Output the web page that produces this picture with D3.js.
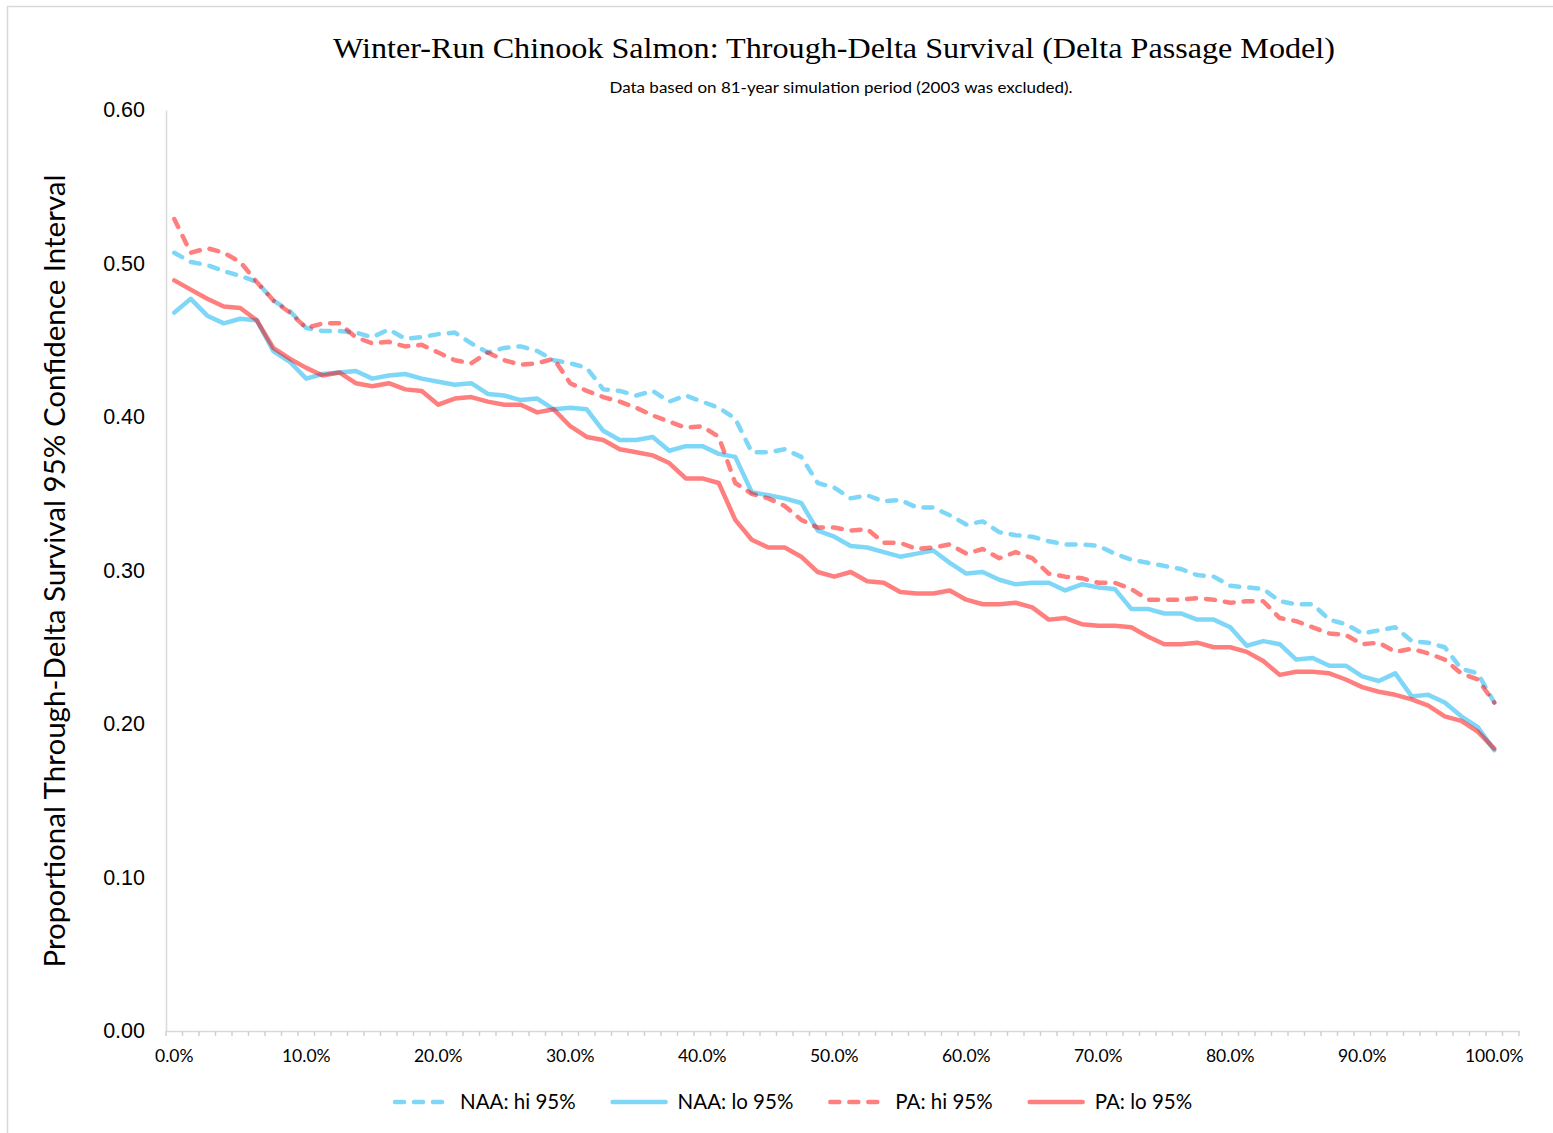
<!DOCTYPE html>
<html>
<head>
<meta charset="utf-8">
<script src="https://cdnjs.cloudflare.com/ajax/libs/d3/7.8.5/d3.min.js"></script>
<style>
  body { margin: 0; background: #fff; }
</style>
</head>
<body>
<div id="chart-area"></div>
<script>
// Winter-Run Chinook Salmon - through-delta survival, 95% CI bounds
// 81 simulated years, sorted, plotted against exceedance %

const naaHi = [0.507, 0.501, 0.499, 0.495, 0.492, 0.488, 0.476, 0.469, 0.458, 0.456,
  0.456, 0.455, 0.452, 0.457, 0.451, 0.452, 0.454, 0.455, 0.448, 0.442,
  0.445, 0.446, 0.443, 0.437, 0.435, 0.432, 0.418, 0.417, 0.414, 0.417,
  0.410, 0.414, 0.410, 0.406, 0.399, 0.377, 0.377, 0.379, 0.374, 0.357,
  0.354, 0.347, 0.349, 0.345, 0.346, 0.341, 0.341, 0.336, 0.330, 0.332,
  0.325, 0.323, 0.322, 0.319, 0.317, 0.317, 0.316, 0.311, 0.307, 0.305,
  0.303, 0.301, 0.297, 0.296, 0.290, 0.289, 0.288, 0.280, 0.278, 0.278,
  0.268, 0.265, 0.259, 0.261, 0.263, 0.254, 0.253, 0.250, 0.236, 0.233, 0.214]

const naaLo = [0.468, 0.477, 0.466, 0.461, 0.464, 0.463, 0.443, 0.436, 0.425, 0.428,
  0.429, 0.430, 0.425, 0.427, 0.428, 0.425, 0.423, 0.421, 0.422, 0.415,
  0.414, 0.411, 0.412, 0.405, 0.406, 0.405, 0.391, 0.385, 0.385, 0.387,
  0.378, 0.381, 0.381, 0.376, 0.374, 0.351, 0.349, 0.347, 0.344, 0.326,
  0.322, 0.316, 0.315, 0.312, 0.309, 0.311, 0.313, 0.305, 0.298, 0.299,
  0.294, 0.291, 0.292, 0.292, 0.287, 0.291, 0.289, 0.288, 0.275, 0.275,
  0.272, 0.272, 0.268, 0.268, 0.263, 0.251, 0.254, 0.252, 0.242, 0.243,
  0.238, 0.238, 0.231, 0.228, 0.233, 0.218, 0.219, 0.214, 0.205, 0.198, 0.183]

const paHi = [0.529, 0.507, 0.510, 0.507, 0.501, 0.488, 0.476, 0.468, 0.458, 0.461,
  0.461, 0.452, 0.448, 0.449, 0.446, 0.447, 0.442, 0.437, 0.435, 0.442,
  0.437, 0.434, 0.435, 0.438, 0.422, 0.417, 0.413, 0.410, 0.406, 0.401,
  0.397, 0.393, 0.394, 0.387, 0.357, 0.350, 0.347, 0.342, 0.333, 0.328,
  0.328, 0.326, 0.327, 0.318, 0.318, 0.314, 0.315, 0.317, 0.311, 0.314,
  0.308, 0.312, 0.308, 0.298, 0.296, 0.295, 0.292, 0.292, 0.288, 0.281,
  0.281, 0.281, 0.282, 0.281, 0.279, 0.280, 0.280, 0.269, 0.267, 0.263,
  0.259, 0.258, 0.252, 0.253, 0.247, 0.249, 0.246, 0.242, 0.233, 0.229, 0.214]

const paLo = [0.489, 0.483, 0.477, 0.472, 0.471, 0.463, 0.445, 0.438, 0.432, 0.427,
  0.429, 0.422, 0.420, 0.422, 0.418, 0.417, 0.408, 0.412, 0.413, 0.410,
  0.408, 0.408, 0.403, 0.405, 0.394, 0.387, 0.385, 0.379, 0.377, 0.375,
  0.370, 0.360, 0.360, 0.357, 0.333, 0.320, 0.315, 0.315, 0.309, 0.299,
  0.296, 0.299, 0.293, 0.292, 0.286, 0.285, 0.285, 0.287, 0.281, 0.278,
  0.278, 0.279, 0.276, 0.268, 0.269, 0.265, 0.264, 0.264, 0.263, 0.257,
  0.252, 0.252, 0.253, 0.250, 0.250, 0.247, 0.241, 0.232, 0.234, 0.234,
  0.233, 0.229, 0.224, 0.221, 0.219, 0.216, 0.212, 0.205, 0.202, 0.195, 0.184]

// x tick labels, every 8th year of the sorted record
const xTickLabels = ["0.0%", "10.0%", "20.0%", "30.0%", "40.0%", "50.0%",
  "60.0%", "70.0%", "80.0%", "90.0%", "100.0%"]
const yTicks = [0.0, 0.1, 0.2, 0.3, 0.4, 0.5, 0.6]

const seriesNames = ["NAA: hi 95%", "NAA: lo 95%", "PA: hi 95%", "PA: lo 95%"]

const WIDTH = 1553
const HEIGHT = 1133
const PLOT = { LEFT: 166, RIGHT: 1519, TOP: 110, BOTTOM: 1031 }
const N_SLOTS = 82   // excel category axis, one empty slot at the end
const BLUE = "#00b0f0"
const RED = "#ff0000"

const series = [
  { name: seriesNames[0], values: naaHi, color: BLUE, dashed: true },
  { name: seriesNames[1], values: naaLo, color: BLUE, dashed: false },
  { name: seriesNames[2], values: paHi, color: RED, dashed: true },
  { name: seriesNames[3], values: paLo, color: RED, dashed: false }
]

const svg = d3.select("#chart-area").append("svg")
  .attr("width", WIDTH)
  .attr("height", HEIGHT)
  .style("display", "block")

// outer chart border (cropped at right / bottom)
svg.append("path")
  .attr("d", `M7.5,${HEIGHT} V6.5 H${WIDTH}`)
  .attr("fill", "none")
  .attr("stroke", "#d9d9d9")
  .attr("stroke-width", 1.5)

// scales
const x = d3.scaleBand()
  .domain(d3.range(N_SLOTS))
  .range([PLOT.LEFT, PLOT.RIGHT])
const slot = d3.scaleLinear()
  .domain([0, N_SLOTS])
  .range([PLOT.LEFT, PLOT.RIGHT])
const y = d3.scaleLinear()
  .domain([0, 0.6])
  .range([PLOT.BOTTOM, PLOT.TOP])

const cx = i => x(i) + x.bandwidth() / 2

// y axis
const yAxis = svg.append("g")
  .attr("transform", `translate(${PLOT.LEFT}, 0)`)
  .call(d3.axisLeft(y).tickValues(yTicks).tickFormat(d3.format(".2f")).tickSize(0).tickPadding(21))
yAxis.select(".domain").attr("stroke", "#d9d9d9").attr("stroke-width", 1.5)
yAxis.selectAll("text")
  .attr("font-family", "'Liberation Sans', Arial, sans-serif")
  .attr("font-size", "21.5px")
  .attr("fill", "#000")

// x axis, labels every 8 categories
const xAxis = svg.append("g")
  .attr("transform", `translate(0, ${PLOT.BOTTOM})`)
  .call(d3.axisBottom(x)
    .tickValues(xTickLabels.map((d, i) => i * 8))
    .tickFormat((d, i) => xTickLabels[i])
    .tickSize(0)
    .tickPadding(19))
xAxis.select(".domain").attr("stroke", "#d9d9d9").attr("stroke-width", 1.5)
xAxis.selectAll("text")
  .attr("font-family", "Lato, 'Open Sans', sans-serif")
  .attr("font-size", "17.5px")
  .attr("fill", "#000")

// tick marks at every category boundary
svg.append("g").selectAll("line")
  .data(d3.range(N_SLOTS + 1))
  .join("line")
  .attr("x1", d => slot(d))
  .attr("x2", d => slot(d))
  .attr("y1", PLOT.BOTTOM)
  .attr("y2", PLOT.BOTTOM + 5)
  .attr("stroke", "#d0d0d0")
  .attr("stroke-width", 1.5)

// lines
const line = d3.line()
  .x((d, i) => cx(i))
  .y(d => y(d))

svg.append("g").selectAll("path")
  .data(series)
  .join("path")
  .attr("d", d => line(d.values))
  .attr("fill", "none")
  .attr("stroke", d => d.color)
  .attr("stroke-opacity", 0.5)
  .attr("stroke-width", 4.5)
  .attr("stroke-linejoin", "round")
  .attr("stroke-linecap", "round")
  .attr("stroke-dasharray", d => d.dashed ? "9,10" : null)

// titles
svg.append("text")
  .attr("x", 834)
  .attr("y", 58)
  .attr("text-anchor", "middle")
  .attr("font-family", "'Liberation Serif', 'Times New Roman', serif")
  .attr("font-size", "30px")
  .attr("textLength", 1002)
  .attr("lengthAdjust", "spacingAndGlyphs")
  .text("Winter-Run Chinook Salmon: Through-Delta Survival (Delta Passage Model)")

svg.append("text")
  .attr("x", 841)
  .attr("y", 93)
  .attr("text-anchor", "middle")
  .attr("font-family", "Lato, 'Open Sans', sans-serif")
  .attr("font-size", "15px")
  .attr("textLength", 463)
  .attr("lengthAdjust", "spacingAndGlyphs")
  .text("Data based on 81-year simulation period (2003 was excluded).")

svg.append("text")
  .attr("transform", "translate(65, 571) rotate(-90)")
  .attr("text-anchor", "middle")
  .attr("font-family", "Lato, 'Open Sans', sans-serif")
  .attr("font-size", "28px")
  .attr("textLength", 793)
  .attr("lengthAdjust", "spacingAndGlyphs")
  .text("Proportional Through-Delta Survival 95% Confidence Interval")

// legend
const legend = svg.append("g")
let lx = 393
series.forEach(s => {
  const item = legend.append("g").attr("transform", `translate(${lx}, 1102)`)
  item.append("line")
    .attr("x1", 2).attr("x2", 55)
    .attr("stroke", s.color)
    .attr("stroke-opacity", 0.5)
    .attr("stroke-width", 4.5)
    .attr("stroke-linecap", "round")
    .attr("stroke-dasharray", s.dashed ? "9,10" : null)
  const t = item.append("text")
    .attr("x", 67)
    .attr("dy", "0.36em")
    .attr("font-family", "Lato, 'Open Sans', sans-serif")
    .attr("font-size", "20.5px")
    .text(s.name)
  lx += 67 + t.node().getComputedTextLength() + 35
})
</script>
</body>
</html>
